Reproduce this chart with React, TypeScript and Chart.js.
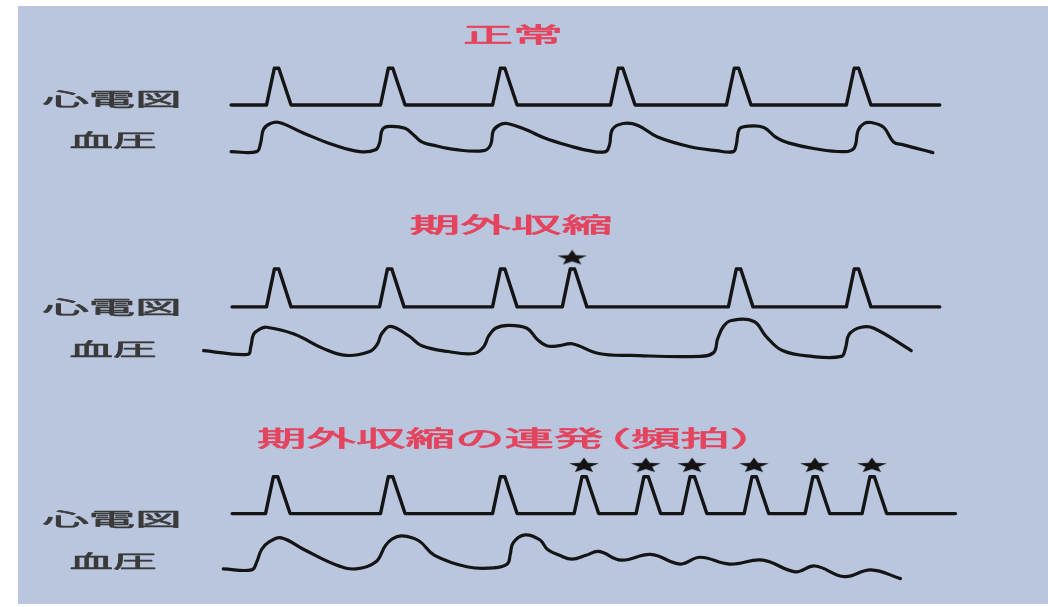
import { useEffect, useRef } from "react";
import { Chart, registerables } from "chart.js";

Chart.register(...registerables);

const W = 1048;
const H = 607;

// ---- Data (time on x, signal level on y; y axis is reversed) ----
const panelTitles = ["正常", "期外収縮", "期外収縮の連発（頻拍）"];
const rowLabels = ["心電図", "血圧"];

// ECG R-wave peak times per panel
const ecgPeaksNormal = [272, 388, 502, 622, 740, 862];
const ecgPeaksPVC = [272, 387, 502, 573, 742, 862];
const ecgPeaksRun = [271, 388, 502, 585, 648, 695, 758, 820, 878];

// ECG trace extents [start, end] and levels [baseline, peak]
const ecgSpanNormal = [226, 947];
const ecgSpanPVC = [227, 947];
const ecgSpanRun = [227, 963];
const ecgLevelNormal = [99, 61];
const ecgLevelPVC = [307, 268];
const ecgLevelRun = [520, 482];

// ectopic beats (marked with stars) and star level
const starsPVC = [573];
const starsRun = [585, 648, 695, 758, 820, 878];
const starLevelPVC = 256;
const starLevelRun = 470;

// Blood pressure traces [time, level]
const bpNormal: [number, number][] = [
  [226, 147], [252, 147], [256, 138], [259, 124], [266, 118], [275, 117], [300, 128], [330, 140],
  [357, 147], [373, 145], [377, 138], [380, 124], [387, 121], [403, 123], [412, 130], [420, 137],
  [430, 140], [455, 145], [483, 146], [490, 140], [493, 125], [500, 119], [507, 118], [525, 124],
  [545, 133], [570, 141], [590, 146], [607, 147], [611, 140], [614, 124], [625, 118], [640, 120],
  [660, 132], [693, 142], [720, 146], [737, 147], [740, 140], [743, 124], [750, 121], [768, 122],
  [780, 132], [793, 138], [820, 144], [850, 147], [860, 143], [864, 125], [870, 118], [877, 117],
  [890, 122], [900, 137], [910, 140], [940, 148],
];
const bpPVC: [number, number][] = [
  [198, 352], [243, 356], [246, 348], [249, 335], [255, 330], [262, 328], [290, 335], [320, 350],
  [343, 357], [367, 353], [375, 345], [379, 335], [388, 327], [407, 337], [420, 347], [447, 353],
  [473, 355], [483, 348], [488, 337], [495, 329], [508, 326], [527, 329], [537, 340], [547, 347],
  [560, 347], [573, 345], [600, 355], [633, 357], [703, 358], [717, 354], [721, 340], [727, 327],
  [735, 321], [758, 322], [770, 337], [787, 352], [817, 358], [847, 358], [851, 350], [855, 335],
  [867, 328], [880, 329], [918, 352],
];
const bpRun: [number, number][] = [
  [218, 577], [247, 578], [252, 570], [257, 557], [265, 549], [277, 545], [300, 557], [333, 573],
  [353, 577], [373, 570], [383, 553], [390, 546], [400, 543], [417, 548], [433, 563], [467, 575],
  [493, 576], [507, 572], [510, 562], [513, 550], [525, 542], [540, 547], [548, 557], [560, 563],
  [573, 567], [587, 563], [600, 559], [623, 568], [653, 562], [683, 572], [703, 565], [733, 572],
  [767, 568], [800, 580], [820, 574], [850, 585], [877, 578], [907, 587],
];

// ---- Layout / style ----
const BG = "#b9c6de";
const LINE = "#141414";
const TITLE_COLOR = "#e4445e";
const LABEL_COLOR = "#3a3a3a";
const FONT = '"Noto Sans CJK JP", "Noto Sans", sans-serif';
const titlePieces = [
  { text: panelTitles[0], cx: 513, cy: 34, w: 100, size: 21 },
  { text: panelTitles[1], cx: 511, cy: 224, w: 203, size: 21 },
];
// third title drawn in two runs so the full-width bracket sits close to the text
const title3Split = 7;
const title3 = { left: 257, cy: 438, size: 22, em: 49.5, gap: -22 };
const labelRows = [
  { ecg: 99, bp: 140 },
  { ecg: 307, bp: 349 },
  { ecg: 519, bp: 561 },
];
const ecgLabelBox = { cx: 112, w: 139, size: 18 };
const bpLabelBox = { cx: 113, w: 87, size: 18 };

function ecgTrace(peaks: number[], span: number[], level: number[]) {
  const [start, end] = span;
  const [base, top] = level;
  const pts: { x: number; y: number }[] = [{ x: start, y: base }];
  peaks.forEach((p) => {
    pts.push({ x: p - 10, y: base }, { x: p - 2, y: top }, { x: p + 2.5, y: top }, { x: p + 15, y: base });
  });
  pts.push({ x: end, y: base });
  return pts;
}

const toPts = (arr: [number, number][]) => arr.map(([x, y]) => ({ x, y }));

function makeStar(): HTMLCanvasElement {
  const c = document.createElement("canvas");
  c.width = 32;
  c.height = 16;
  const g = c.getContext("2d")!;
  g.fillStyle = LINE;
  g.save();
  g.translate(16, 8.6);
  g.scale(1.95, 1);
  g.beginPath();
  for (let i = 0; i < 10; i++) {
    const r = i % 2 === 0 ? 8 : 3.4;
    const a = -Math.PI / 2 + (i * Math.PI) / 5;
    const px = Math.cos(a) * r;
    const py = Math.sin(a) * r;
    if (i === 0) g.moveTo(px, py);
    else g.lineTo(px, py);
  }
  g.closePath();
  g.fill();
  g.restore();
  return c;
}

function drawStretched(ctx: CanvasRenderingContext2D, text: string, cx: number, cy: number, w: number, size: number, color: string, stroke: number) {
  ctx.save();
  ctx.font = `normal ${size}px ${FONT}`;
  const m = ctx.measureText(text).width || 1;
  ctx.translate(cx, cy);
  ctx.scale(w / m, 1);
  ctx.textAlign = "center";
  ctx.textBaseline = "middle";
  ctx.fillStyle = color;
  ctx.fillText(text, 0, 0);
  if (stroke > 0) {
    ctx.strokeStyle = color;
    ctx.lineWidth = stroke;
    ctx.lineJoin = "round";
    ctx.strokeText(text, 0, 0);
  }
  ctx.restore();
}

export default function App() {
  const ref = useRef<HTMLCanvasElement | null>(null);

  useEffect(() => {
    document.body.style.margin = "0";
    const canvas = ref.current!;
    const star = makeStar();

    const bgPlugin = {
      id: "bg",
      beforeDraw(chart: any) {
        const ctx = chart.ctx as CanvasRenderingContext2D;
        ctx.save();
        ctx.fillStyle = "#ffffff";
        ctx.fillRect(0, 0, W, H);
        ctx.fillStyle = BG;
        ctx.fillRect(18, 6, W - 18, H - 9);
        ctx.restore();
      },
    };

    const textPlugin = {
      id: "texts",
      afterDatasetsDraw(chart: any) {
        const ctx = chart.ctx as CanvasRenderingContext2D;
        titlePieces.forEach((b) => drawStretched(ctx, b.text, b.cx, b.cy, b.w, b.size, TITLE_COLOR, 0.7));
        const t = panelTitles[2];
        const a = t.slice(0, title3Split);
        const bTxt = t.slice(title3Split);
        const aW = title3.em * a.length;
        drawStretched(ctx, a, title3.left + aW / 2, title3.cy, aW, title3.size, TITLE_COLOR, 0.7);
        const bW = title3.em * bTxt.length;
        const bLeft = title3.left + aW + title3.gap;
        drawStretched(ctx, bTxt, bLeft + bW / 2, title3.cy, bW, title3.size, TITLE_COLOR, 0.7);
        labelRows.forEach((r) => {
          drawStretched(ctx, rowLabels[0], ecgLabelBox.cx, r.ecg, ecgLabelBox.w, ecgLabelBox.size, LABEL_COLOR, 0.6);
          drawStretched(ctx, rowLabels[1], bpLabelBox.cx, r.bp, bpLabelBox.w, bpLabelBox.size, LABEL_COLOR, 0.6);
        });
      },
    };

    const ecgStyle = {
      type: "line" as const,
      borderColor: LINE,
      borderWidth: 3.4,
      pointRadius: 0,
      tension: 0,
      fill: false,
      borderJoinStyle: "round" as const,
      borderCapStyle: "round" as const,
    };
    const bpStyle = {
      type: "line" as const,
      borderColor: LINE,
      borderWidth: 3.2,
      pointRadius: 0,
      tension: 0.4,
      fill: false,
      borderJoinStyle: "round" as const,
      borderCapStyle: "round" as const,
    };
    const starStyle = {
      type: "scatter" as const,
      pointStyle: star,
      pointRadius: 8,
      showLine: false,
    };

    const chart = new Chart(canvas, {
      type: "line",
      data: {
        datasets: [
          { ...ecgStyle, label: "心電図 正常", data: ecgTrace(ecgPeaksNormal, ecgSpanNormal, ecgLevelNormal) },
          { ...bpStyle, label: "血圧 正常", data: toPts(bpNormal) },
          { ...ecgStyle, label: "心電図 期外収縮", data: ecgTrace(ecgPeaksPVC, ecgSpanPVC, ecgLevelPVC) },
          { ...bpStyle, label: "血圧 期外収縮", data: toPts(bpPVC) },
          { ...ecgStyle, label: "心電図 頻拍", data: ecgTrace(ecgPeaksRun, ecgSpanRun, ecgLevelRun) },
          { ...bpStyle, label: "血圧 頻拍", data: toPts(bpRun) },
          { ...starStyle, label: "★ 期外収縮", data: starsPVC.map((x) => ({ x, y: starLevelPVC })) },
          { ...starStyle, label: "★ 頻拍", data: starsRun.map((x) => ({ x, y: starLevelRun })) },
        ] as any,
      },
      options: {
        animation: false,
        responsive: false,
        devicePixelRatio: 1,
        layout: { padding: 0 },
        parsing: false as any,
        clip: false as any,
        scales: {
          x: { type: "linear", min: 0, max: W, display: false },
          y: { type: "linear", min: 0, max: H, reverse: true, display: false },
        },
        plugins: {
          legend: { display: false },
          tooltip: { enabled: false },
          title: { display: false },
        },
      },
      plugins: [bgPlugin, textPlugin],
    });

    return () => chart.destroy();
  }, []);

  return (
    <div style={{ position: "fixed", left: 0, top: 0, width: W, height: H }}>
      <canvas ref={ref} width={W} height={H} style={{ width: W, height: H, display: "block" }} />
    </div>
  );
}
